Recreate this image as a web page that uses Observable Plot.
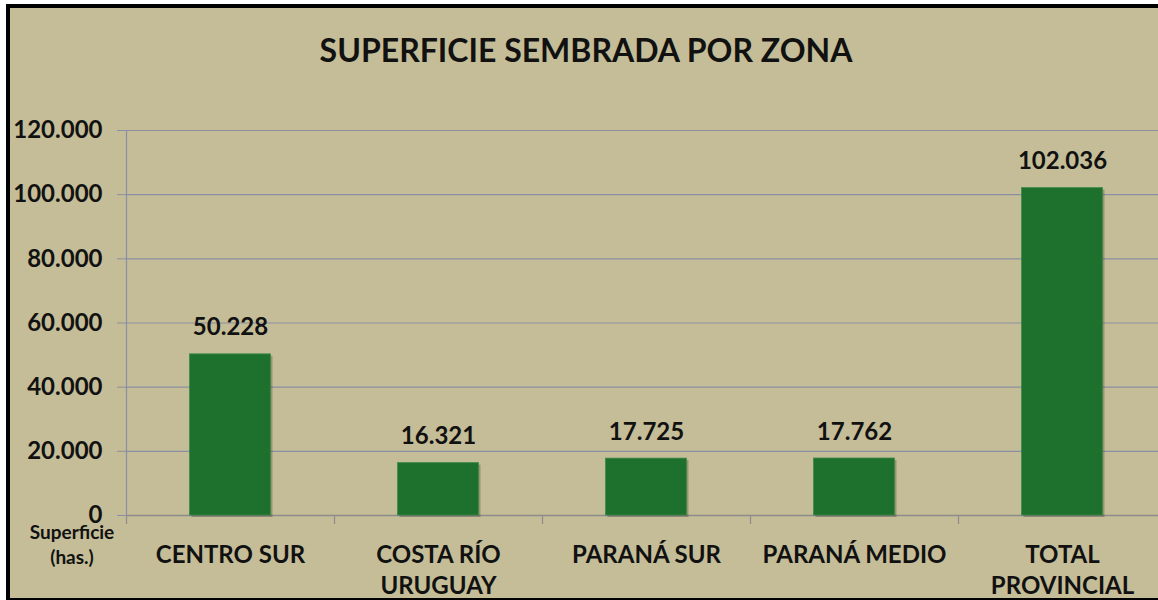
<!DOCTYPE html>
<html>
<head>
<meta charset="utf-8">
<script src="https://cdn.jsdelivr.net/npm/d3@7"></script>
<script src="https://cdn.jsdelivr.net/npm/@observablehq/plot@0.6"></script>
<style>
  html, body { margin: 0; padding: 0; background: #fff; }
  #wrap { position: relative; width: 1158px; height: 600px; overflow: hidden; font-family: Lato, "Open Sans", sans-serif; }
  #frame { position: absolute; left: 6px; top: 4px; width: 1170px; height: 598px; box-sizing: border-box; border: 4px solid #000; background: #C4BD97; }
  #title { position: absolute; left: 0; width: 1172px; top: 30px; text-align: center; font-size: 32px; font-weight: 700; color: #111; line-height: 40px; }
  #ylabel { position: absolute; left: 21px; width: 102px; top: 519px; text-align: center; font-size: 19px; font-weight: 700; color: #111; line-height: 25px; }
  #chart { position: absolute; left: 0; top: 0; }
</style>
</head>
<body>
<div id="wrap">
  <div id="frame"></div>
  <div id="chart"></div>
  <div id="title">SUPERFICIE SEMBRADA POR ZONA</div>
  <div id="ylabel">Superficie<br>(has.)</div>
</div>
<script>
const categories = ["CENTRO SUR", "COSTA RÍO\nURUGUAY", "PARANÁ SUR", "PARANÁ MEDIO", "TOTAL\nPROVINCIAL"];
const values = [50228, 16321, 17725, 17762, 102036];
const yTicks = [0, 20000, 40000, 60000, 80000, 100000, 120000];

const data = categories.map((c, i) => ({zona: c, valor: values[i]}));
const fmt = d => d3.format(",")(d).replace(/,/g, ".");
const gridColor = "#8b8fa3";
const axisColor = "#8c8c8c";
const barColor = "#1E712D";

const chart = Plot.plot({
  width: 1158,
  height: 600,
  marginLeft: 126,
  marginRight: -8,
  marginTop: 130,
  marginBottom: 85,
  x: {domain: categories, padding: 0, axis: null},
  y: {domain: [0, 120000], axis: null},
  style: {background: "transparent", fontFamily: "Lato, 'Open Sans', sans-serif", overflow: "visible"},
  marks: [
    Plot.gridY(yTicks, {stroke: gridColor, strokeOpacity: 1, strokeWidth: 1.2}),
    Plot.axisY(yTicks, {label: null, tickSize: 9, tickPadding: 15, tickFormat: fmt, fontSize: 24, fontWeight: "bold", stroke: gridColor, strokeOpacity: 1, fill: "#111"}),
    Plot.frame({anchor: "left", stroke: gridColor, strokeWidth: 1.2}),
    Plot.ruleY([0], {stroke: axisColor, strokeWidth: 1.5}),
    Plot.ruleX(categories, {x: d => d, y1: 0, y2: -2800, dx: -104, stroke: axisColor, strokeWidth: 1.2}),
    Plot.barY(data, {x: "zona", y: "valor", insetLeft: 63.5, insetRight: 63.5, dx: 2, dy: 2, fill: "#000", fillOpacity: 0.22}),
    Plot.barY(data, {x: "zona", y: "valor", insetLeft: 63.5, insetRight: 63.5, fill: barColor, stroke: "#3d8a48", strokeWidth: 0.8}),
    Plot.text(data, {x: "zona", y: "valor", text: d => fmt(d.valor), dy: -19, lineAnchor: "bottom", fontSize: 24, fontWeight: "bold", fill: "#111"}),
    Plot.text(categories, {x: d => d, y: 0, text: d => d, dy: 25, lineAnchor: "top", lineHeight: 1.3, fontSize: 24, fontWeight: "bold", fill: "#111"})
  ]
});
document.getElementById("chart").appendChild(chart);
</script>
</body>
</html>
